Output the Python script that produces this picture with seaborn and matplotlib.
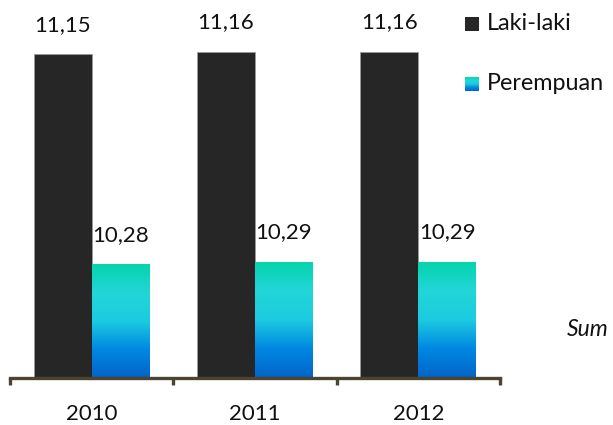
import numpy as np
import pandas as pd
import matplotlib
matplotlib.use("Agg")
import matplotlib.pyplot as plt
from matplotlib.colors import LinearSegmentedColormap
from matplotlib.patches import Rectangle
import seaborn as sns

years = ["2010", "2011", "2012"]
laki_laki = [11.15, 11.16, 11.16]
perempuan = [10.28, 10.29, 10.29]
series_names = ["Laki-laki", "Perempuan"]

df = pd.DataFrame({
    "Tahun": years * 2,
    "Nilai": laki_laki + perempuan,
    "Jenis": [series_names[0]] * 3 + [series_names[1]] * 3,
})

sns.set_theme(style="white")
plt.rcParams["font.family"] = ["Lato", "DejaVu Sans"]

DARK = "#262626"
AXIS_COLOR = "#4b4430"
TEXT = "#111111"
FS = 16
grad = LinearSegmentedColormap.from_list(
    "teal_blue", ["#0064c8", "#0088e2", "#1ccbe0", "#22d6d8", "#04d4ac"]
)

W, H = 613, 425
YMIN, YMAX = 9.808, 11.374
fig = plt.figure(figsize=(W / 100, H / 100), dpi=100)
ax = fig.add_axes([10 / W, 47 / H, 490 / W, 378 / H])

sns.barplot(
    data=df, x="Tahun", y="Nilai", hue="Jenis", order=years,
    hue_order=series_names, palette=[DARK, "#10c0d8"], width=0.71,
    saturation=1, legend=False, ax=ax,
)

containers = ax.containers
# dark series: thin light edge
for bar in containers[0]:
    bar.set_edgecolor("#9a9a9a")
    bar.set_linewidth(0.6)

# gradient fill for the second series, limited to the visible part of each bar
gimg = np.linspace(0, 1, 256).reshape(-1, 1)
for bar in containers[1]:
    x0, w = bar.get_x(), bar.get_width()
    top = bar.get_y() + bar.get_height()
    bar.set_visible(False)
    clip = Rectangle((x0, YMIN), w, top - YMIN, transform=ax.transData,
                     facecolor="none", edgecolor="none")
    ax.add_patch(clip)
    im = ax.imshow(gimg, cmap=grad, aspect="auto", origin="lower",
                   extent=[x0, x0 + w, YMIN, top], zorder=1)
    im.set_clip_path(clip)

ax.set_xlim(-0.5, 2.5)
ax.set_ylim(YMIN, YMAX)

# value labels
for cont, vals in zip(containers, [laki_laki, perempuan]):
    ax.bar_label(cont, labels=[f"{v:.2f}".replace(".", ",") for v in vals],
                 padding=14, fontsize=FS, color=TEXT)

# axes styling
for s in ["left", "right", "top"]:
    ax.spines[s].set_visible(False)
ax.spines["bottom"].set_color(AXIS_COLOR)
ax.spines["bottom"].set_linewidth(2.4)
ax.spines["bottom"].set_zorder(5)
ax.set_yticks([])
ax.set_xlabel("")
ax.set_ylabel("")
ax.set_xticks([0, 1, 2])
ax.set_xticklabels(years)
ax.set_xticks([-0.5, 0.5, 1.5, 2.5], minor=True)
ax.tick_params(axis="x", which="major", length=0, pad=19, labelsize=FS,
               labelcolor=TEXT)
ax.tick_params(axis="x", which="minor", bottom=True, length=5, width=2.4,
               color=AXIS_COLOR, direction="out")

# legend
fig.patches.append(Rectangle((465 / W, 1 - 31 / H), 14 / W, 14 / H,
                             transform=fig.transFigure, facecolor=DARK,
                             edgecolor="none"))
fig.text(487 / W, 1 - 24 / H, series_names[0], fontsize=16.8,
         va="center", ha="left", color=TEXT)
lax = fig.add_axes([465 / W, 1 - 91 / H, 14 / W, 14 / H])
lax.imshow(gimg, cmap=grad, aspect="auto", origin="lower")
lax.set_axis_off()
fig.text(487 / W, 1 - 84 / H, series_names[1], fontsize=16.8,
         va="center", ha="left", color=TEXT)

# source note
fig.text(567 / W, 1 - 330 / H, "Sum", fontsize=16.5, style="italic",
         va="center", ha="left", color=TEXT)

fig.savefig("out.png", dpi=100)
